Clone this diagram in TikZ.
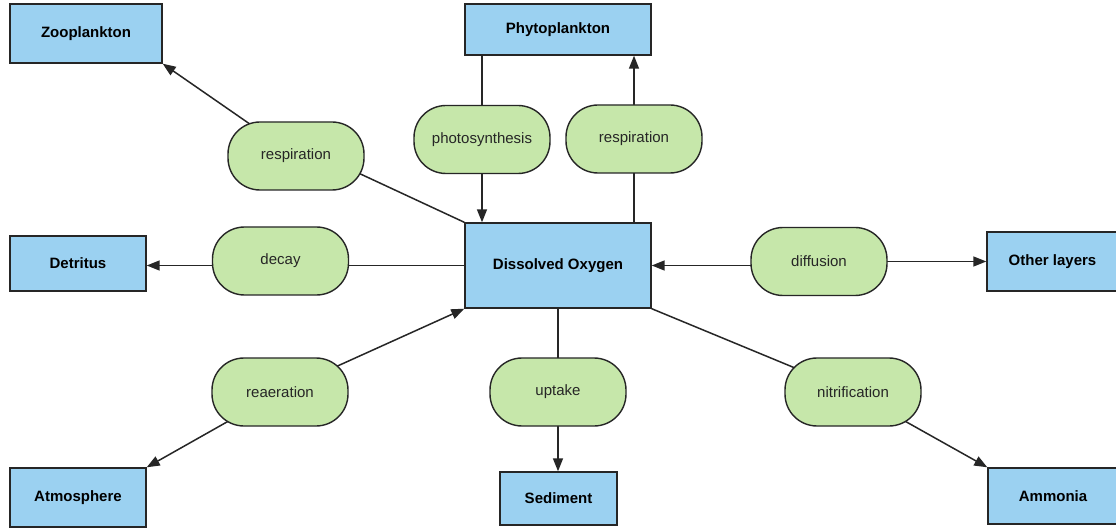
\documentclass[tikz,border=0pt]{standalone}
\usepackage{fontspec}
\setmainfont{Liberation Sans}
\usetikzlibrary{arrows.meta}
\pgfdeclarelayer{bg}
\pgfsetlayers{bg,main}
\definecolor{boxblue}{HTML}{9BD1F1}
\definecolor{pillgreen}{HTML}{C6E7AA}
\definecolor{edge}{HTML}{262626}
\tikzset{
  box/.style={draw=edge, fill=boxblue, line width=1.4pt, inner sep=0pt,
    font=\fontsize{15}{18}\selectfont\bfseries, text=black},
  pill/.style={draw=edge, fill=pillgreen, line width=1.4pt, inner sep=0pt,
    rounded corners=32pt, minimum width=136pt, minimum height=68pt,
    font=\fontsize{15}{18}\selectfont, text=black!85},
  conn/.style={draw=edge, line width=1.5pt},
  arr/.style={conn, -{Triangle[length=13pt,width=10pt]}}
}
\begin{document}
\begin{tikzpicture}[x=1pt,y=-1pt]
\useasboundingbox (0,0) rectangle (1116,529);
% blue boxes
\node[box, minimum width=152pt, minimum height=59pt] (zoo) at (86,33.5) {Zooplankton};
\node[box, minimum width=186pt, minimum height=51pt] (phyto) at (558,29.5) {Phytoplankton};
\node[box, minimum width=186pt, minimum height=85pt] (do) at (558,265.5) {Dissolved Oxygen};
\node[box, minimum width=136pt, minimum height=55pt] (det) at (78,263.5) {Detritus};
\node[box, minimum width=131pt, minimum height=59pt] (other) at (1052.5,261.5) {Other layers};
\node[box, minimum width=136pt, minimum height=59pt] (atm) at (78,497.5) {Atmosphere};
\node[box, minimum width=117pt, minimum height=53pt] (sed) at (558.5,498.5) {Sediment};
\node[box, minimum width=130pt, minimum height=56pt] (amm) at (1053,496) {Ammonia};
% green pills
\node[pill] (respL) at (296,156) {respiration};
\node[pill] (photo) at (482,139.5) {photosynthesis};
\node[pill] (respR) at (634,139) {respiration};
\node[pill] (decay) at (280.5,261) {decay};
\node[pill] (diff) at (819,261.5) {diffusion};
\node[pill] (reaer) at (280,392) {reaeration};
\node[pill] (uptake) at (558,392) {uptake};
\node[pill] (nitr) at (853,392) {nitrification};
% connectors (behind the nodes)
\begin{pgfonlayer}{bg}
\fill[white] (0,0) rectangle (1116,529);
\draw[arr] (respL.center) -- (zoo.south east);
\draw[conn] (do.north west) -- ([yshift=12pt]respL.center);
\draw[conn] (photo.center) -- (photo.center |- phyto.south);
\draw[arr] (photo.center) -- (photo.center |- do.north);
\draw[conn] (respR.center) -- (respR.center |- do.north);
\draw[arr] (respR.center) -- (respR.center |- phyto.south);
\draw[arr] (do.west) -- (do.west -| det.east);
\draw[arr] (diff.center |- do.east) -- (do.east);
\draw[arr] (diff.center) -- (diff.center -| other.west);
\draw[arr] (reaer.center) -- (do.south west);
\draw[arr] (reaer.center) -- (atm.north east);
\draw[conn] (uptake.center) -- (uptake.center |- do.south);
\draw[arr] (uptake.center) -- (uptake.center |- sed.north);
\draw[conn] (do.south east) -- (nitr.center);
\draw[arr] (nitr.center) -- (amm.north west);
\end{pgfonlayer}
\end{tikzpicture}
\end{document}
